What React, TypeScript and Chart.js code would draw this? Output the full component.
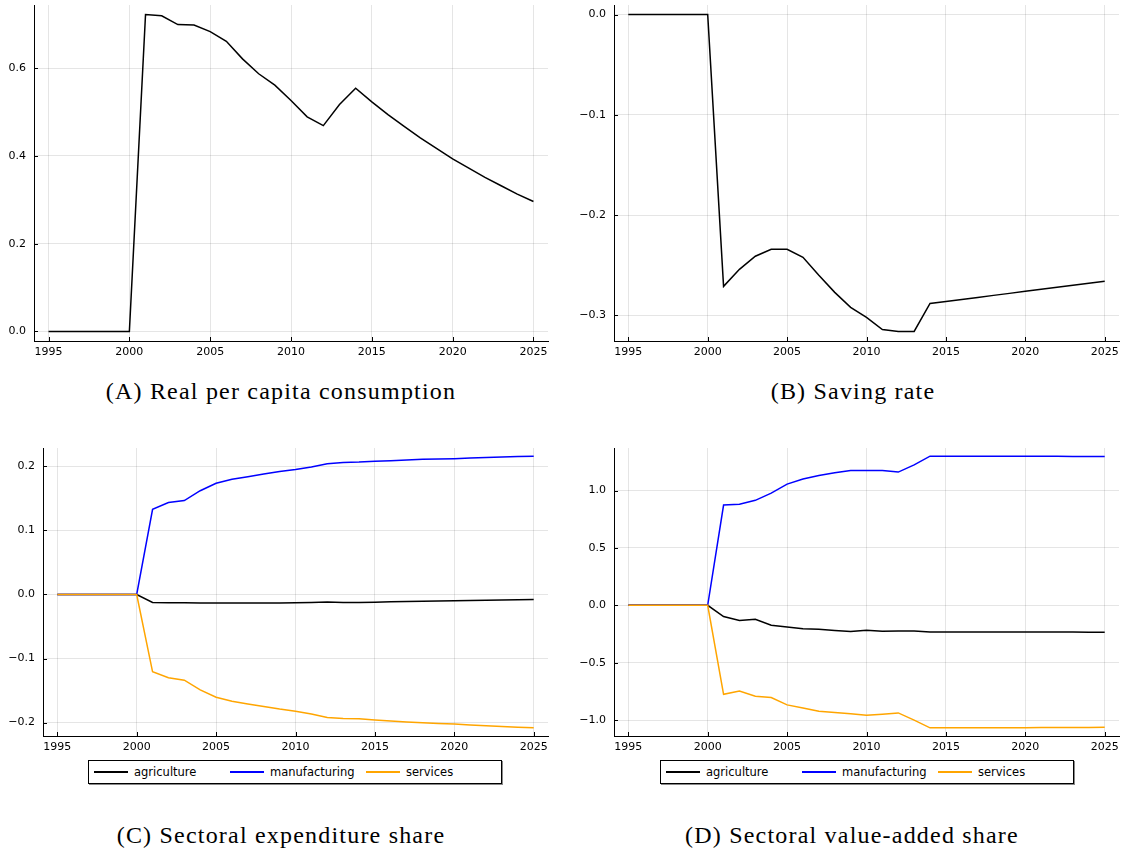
import React, { useEffect, useRef } from "react";
import { Chart, registerables } from "chart.js";

Chart.register(...registerables);

// ---- data ----
const years = [
  1995, 1996, 1997, 1998, 1999, 2000, 2001, 2002, 2003, 2004, 2005, 2006, 2007, 2008, 2009, 2010,
  2011, 2012, 2013, 2014, 2015, 2016, 2017, 2018, 2019, 2020, 2021, 2022, 2023, 2024, 2025,
];

const consumption = [
  0, 0, 0, 0, 0, 0, 0.722, 0.719, 0.699, 0.698, 0.683, 0.661, 0.621, 0.587, 0.561, 0.526, 0.489,
  0.469, 0.517, 0.554, 0.523, 0.494, 0.467, 0.441, 0.417, 0.393, 0.372, 0.351, 0.332, 0.313, 0.296,
];

const savingRate = [
  0, 0, 0, 0, 0, 0, -0.271, -0.254, -0.241, -0.234, -0.234, -0.242, -0.26, -0.277, -0.292, -0.302,
  -0.314, -0.316, -0.316, -0.288, -0.286, -0.284, -0.282, -0.28, -0.278, -0.276, -0.274, -0.272,
  -0.27, -0.268, -0.266,
];

const expAgriculture = [
  0, 0, 0, 0, 0, 0, -0.0124, -0.013, -0.0128, -0.0132, -0.0131, -0.0133, -0.0132, -0.0132, -0.0131,
  -0.0128, -0.0124, -0.0118, -0.0124, -0.0126, -0.012, -0.0115, -0.011, -0.0106, -0.0102, -0.0098,
  -0.0094, -0.009, -0.0086, -0.0082, -0.0078,
];
const expManufacturing = [
  0, 0, 0, 0, 0, 0, 0.133, 0.1435, 0.1466, 0.162, 0.1736, 0.18, 0.184, 0.188, 0.192, 0.195, 0.199,
  0.204, 0.206, 0.2067, 0.208, 0.209, 0.21, 0.211, 0.2115, 0.212, 0.213, 0.214, 0.2148, 0.2155, 0.216,
];
const expServices = [
  0, 0, 0, 0, 0, 0, -0.1207, -0.13, -0.1338, -0.1488, -0.1605, -0.1667, -0.1708, -0.1748, -0.1789,
  -0.1822, -0.1866, -0.1922, -0.1936, -0.1941, -0.196, -0.1975, -0.199, -0.2004, -0.2013, -0.2022,
  -0.2036, -0.205, -0.2062, -0.2073, -0.2082,
];

const vaAgriculture = [
  0, 0, 0, 0, 0, 0, -0.098, -0.133, -0.122, -0.174, -0.188, -0.205, -0.208, -0.22, -0.229, -0.217,
  -0.226, -0.223, -0.223, -0.232, -0.232, -0.232, -0.232, -0.232, -0.232, -0.232, -0.233, -0.233,
  -0.233, -0.234, -0.234,
];
const vaManufacturing = [
  0, 0, 0, 0, 0, 0, 0.874, 0.88, 0.915, 0.978, 1.056, 1.1, 1.132, 1.155, 1.175, 1.175, 1.175, 1.161,
  1.224, 1.3, 1.3, 1.3, 1.3, 1.3, 1.3, 1.3, 1.299, 1.299, 1.298, 1.298, 1.297,
];
const vaServices = [
  0, 0, 0, 0, 0, 0, -0.776, -0.747, -0.793, -0.804, -0.868, -0.895, -0.924, -0.935, -0.946, -0.958,
  -0.949, -0.938, -1.001, -1.068, -1.068, -1.068, -1.068, -1.068, -1.068, -1.068, -1.066, -1.066,
  -1.065, -1.064, -1.063,
];

const sectorNames = ["agriculture", "manufacturing", "services"];
const sectorColors = ["#000000", "#0000ff", "#ffa500"];

const tickFont = { family: "'DejaVu Sans', sans-serif", size: 11 };

type Series = { label: string; values: number[]; color: string };

// small inward tick marks, like the GR backend draws
const innerTicks = {
  id: "innerTicks",
  afterDatasetsDraw(chart: any) {
    const { ctx, chartArea, scales } = chart;
    ctx.save();
    ctx.strokeStyle = "#000";
    ctx.lineWidth = 1;
    scales.x.ticks.forEach((t: any) => {
      const px = Math.round(scales.x.getPixelForValue(t.value)) + 0.5;
      ctx.beginPath();
      ctx.moveTo(px, chartArea.bottom);
      ctx.lineTo(px, chartArea.bottom - 4);
      ctx.stroke();
    });
    scales.y.ticks.forEach((t: any) => {
      const py = Math.round(scales.y.getPixelForValue(t.value)) + 0.5;
      ctx.beginPath();
      ctx.moveTo(chartArea.left, py);
      ctx.lineTo(chartArea.left + 4, py);
      ctx.stroke();
    });
    ctx.restore();
  },
};

type PanelProps = {
  series: Series[];
  yStep: number;
  left: number;
  top: number;
  width: number;
  height: number;
  yAxisWidth: number;
  xAxisHeight: number;
  padTop: number;
  padRight: number;
};

function LinePanel(p: PanelProps) {
  const canvasRef = useRef<HTMLCanvasElement>(null);

  useEffect(() => {
    const canvas = canvasRef.current;
    if (!canvas) return;

    const all = p.series.flatMap((s) => s.values);
    const lo = Math.min(...all);
    const hi = Math.max(...all);
    const pad = (hi - lo) * 0.03;
    const xPad = (years[years.length - 1] - years[0]) * 0.03;

    const chart = new Chart(canvas, {
      type: "line",
      data: {
        // later series drawn on top, as in the original plot
        datasets: p.series.map((s, i) => ({
          label: s.label,
          data: years.map((yr, k) => ({ x: yr, y: s.values[k] })),
          borderColor: s.color,
          borderWidth: 1.5,
          pointRadius: 0,
          tension: 0,
          fill: false,
          order: p.series.length - 1 - i,
        })),
      },
      options: {
        animation: false,
        responsive: true,
        maintainAspectRatio: false,
        layout: { padding: { top: p.padTop, right: p.padRight, left: 0, bottom: 0 } },
        plugins: { legend: { display: false }, tooltip: { enabled: false } },
        scales: {
          x: {
            type: "linear",
            min: years[0] - xPad,
            max: years[years.length - 1] + xPad,
            grid: { color: "rgba(0,0,0,0.1)", lineWidth: 1, drawTicks: false },
            border: { display: true, color: "#000", width: 1 },
            ticks: {
              stepSize: 5,
              includeBounds: false,
              padding: 5,
              color: "#000",
              font: tickFont,
              maxRotation: 0,
              callback: (v: any) => String(v),
            },
            afterFit: (s: any) => {
              s.height = p.xAxisHeight;
              s.paddingLeft = 0;
              s.paddingRight = 0;
            },
          },
          y: {
            type: "linear",
            min: lo - pad,
            max: hi + pad,
            grid: { color: "rgba(0,0,0,0.1)", lineWidth: 1, drawTicks: false },
            border: { display: true, color: "#000", width: 1 },
            ticks: {
              stepSize: p.yStep,
              includeBounds: false,
              padding: 8,
              color: "#000",
              font: tickFont,
              callback: (v: any) => Number(v).toFixed(1).replace("-", "\u2212"),
            },
            afterFit: (s: any) => {
              s.width = p.yAxisWidth;
              s.paddingTop = 0;
              s.paddingBottom = 0;
            },
          },
        },
      },
      plugins: [innerTicks],
    });

    return () => {
      chart.destroy();
    };
  }, [p]);

  return (
    <div
      style={{
        position: "absolute",
        left: p.left,
        top: p.top,
        width: p.width,
        height: p.height,
      }}
    >
      <canvas ref={canvasRef} />
    </div>
  );
}

function Legend({ left, top }: { left: number; top: number }) {
  return (
    <div
      style={{
        position: "absolute",
        left,
        top,
        width: 412,
        height: 22,
        border: "1px solid #000",
        boxShadow: "1px 1px 0 #888",
        fontFamily: "'DejaVu Sans', sans-serif",
        fontSize: 11.5,
        color: "#000",
      }}
    >
      {sectorNames.map((name, i) => (
        <div
          key={name}
          style={{
            position: "absolute",
            left: 5 + i * 136,
            top: 0,
            height: 22,
            display: "flex",
            alignItems: "center",
          }}
        >
          <span
            style={{ display: "inline-block", width: 34, height: 1.5, background: sectorColors[i] }}
          />
          <span style={{ marginLeft: 6 }}>{name}</span>
        </div>
      ))}
    </div>
  );
}

function Caption({ text, center, y }: { text: string; center: number; y: number }) {
  return (
    <div
      style={{
        position: "absolute",
        left: center - 250,
        width: 500,
        top: y - 15,
        height: 30,
        lineHeight: "30px",
        textAlign: "center",
        fontFamily: "'Liberation Serif', 'DejaVu Serif', serif",
        fontSize: 24,
        letterSpacing: "1.2px",
        color: "#000",
      }}
    >
      {text}
    </div>
  );
}

const consSeries: Series[] = [{ label: "consumption", values: consumption, color: "#000000" }];
const saveSeries: Series[] = [{ label: "saving rate", values: savingRate, color: "#000000" }];
const expSeries: Series[] = [
  { label: sectorNames[0], values: expAgriculture, color: sectorColors[0] },
  { label: sectorNames[1], values: expManufacturing, color: sectorColors[1] },
  { label: sectorNames[2], values: expServices, color: sectorColors[2] },
];
const vaSeries: Series[] = [
  { label: sectorNames[0], values: vaAgriculture, color: sectorColors[0] },
  { label: sectorNames[1], values: vaManufacturing, color: sectorColors[1] },
  { label: sectorNames[2], values: vaServices, color: sectorColors[2] },
];

const panelA = { series: consSeries, yStep: 0.2, left: 0, top: 0, width: 560, height: 362, yAxisWidth: 34, xAxisHeight: 21, padTop: 5, padRight: 12 };
const panelB = { series: saveSeries, yStep: 0.1, left: 570, top: 0, width: 554, height: 362, yAxisWidth: 44, xAxisHeight: 21, padTop: 5, padRight: 5 };
const panelC = { series: expSeries, yStep: 0.1, left: 0, top: 440, width: 560, height: 320, yAxisWidth: 43, xAxisHeight: 24, padTop: 8, padRight: 12 };
const panelD = { series: vaSeries, yStep: 0.5, left: 570, top: 440, width: 554, height: 320, yAxisWidth: 44, xAxisHeight: 24, padTop: 8, padRight: 5 };

export default function App() {
  return (
    <div
      style={{
        position: "fixed",
        left: 0,
        top: 0,
        width: 1124,
        height: 855,
        background: "#fff",
        overflow: "hidden",
      }}
    >
      <LinePanel {...panelA} />
      <LinePanel {...panelB} />
      <LinePanel {...panelC} />
      <LinePanel {...panelD} />
      <Legend left={88} top={760} />
      <Legend left={660} top={760} />
      <Caption text="(A) Real per capita consumption" center={281} y={391} />
      <Caption text="(B) Saving rate" center={853} y={391} />
      <Caption text="(C) Sectoral expenditure share" center={281} y={835} />
      <Caption text="(D) Sectoral value-added share" center={852} y={835} />
    </div>
  );
}
